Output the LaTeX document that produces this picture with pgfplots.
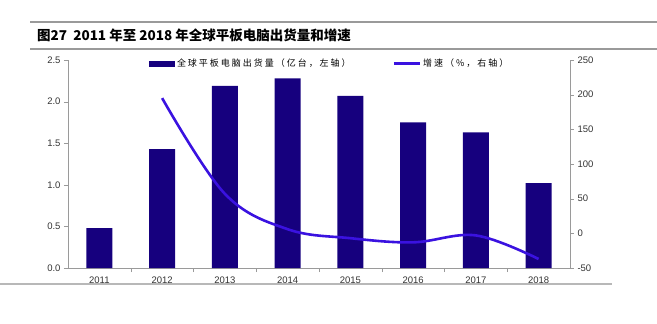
\documentclass[border=0pt]{standalone}
\usepackage{pgfplots}
\pgfplotsset{compat=1.18}
\usepackage{fontspec}
\setmainfont{Liberation Sans}
\newfontfamily\cjk{Noto Sans CJK SC}
\newfontfamily\cjkleg{Noto Sans CJK SC}[LetterSpace=22]
\definecolor{barc}{HTML}{16007E}
\definecolor{linec}{HTML}{3A12E0}
\definecolor{axc}{HTML}{9A9A9A}
\begin{document}
\begin{tikzpicture}[x=1pt,y=-1pt]
\path[use as bounding box] (0,0) rectangle (657,324);
\draw[axc,line width=1.2pt] (30,22) -- (657,22);
\draw[axc,line width=1.2pt] (30,49) -- (657,49);
\draw[axc!70,line width=1.5pt] (0,284) -- (612,284);
\node[anchor=west,inner sep=0pt,font=\cjk\bfseries\fontsize{13.5}{14}\selectfont] at (37,35.5) {图27\ \ 2011 年至 2018 年全球平板电脑出货量和增速};
\begin{axis}[
  at={(68pt,-268pt)}, anchor=south west,
  width=502pt, height=208pt, scale only axis,
  ybar, bar width=26pt,
  xmin=-0.5, xmax=7.5, ymin=0, ymax=2.5,
  axis y line*=left, axis x line*=bottom,
  axis line style={axc, line width=0.8pt},
  xtick={0,...,7},
  xticklabels={2011,2012,2013,2014,2015,2016,2017,2018},
  minor xtick={0.5,1.5,...,6.5},
  major x tick style={draw=none},
  minor x tick style={axc},
  minor tick length=4pt,
  ytick={0,0.5,...,2.5},
  yticklabel style={/pgf/number format/.cd, fixed, fixed zerofill, precision=1},
  y tick style={axc},
  tick align=outside,
  major tick length=4pt,
  tick label style={font=\fontsize{9.5}{10}\selectfont, text=black!80},
  /pgf/number format/assume math mode=true,
  x tick label style={yshift=-1pt},
  legend style={draw=none, fill=none, at={(0.155,1.025)}, anchor=north west,
    font=\cjkleg\fontsize{9}{10}\selectfont, legend columns=2,
    /tikz/every even column/.append style={column sep=40pt}},
  legend image code/.code={\fill[barc] (0pt,-3pt) rectangle (26pt,3pt);},
]
\addplot[fill=barc, draw=none] coordinates {(0,0.48) (1,1.43) (2,2.19) (3,2.28) (4,2.07) (5,1.75) (6,1.63) (7,1.02)};
\addlegendentry{全球平板电脑出货量（亿台，左轴）}
\addlegendimage{legend image code/.code={\draw[linec, line width=2.5pt] (0pt,0pt) -- (26pt,0pt);}}
\addlegendentry{增速（\%，右轴）}
\end{axis}
\begin{axis}[
  at={(68pt,-268pt)}, anchor=south west,
  width=502pt, height=208pt, scale only axis,
  xmin=-0.5, xmax=7.5, ymin=-50, ymax=250,
  axis y line*=right, axis x line=none,
  axis line style={axc, line width=0.8pt},
  ytick={-50,0,...,250},
  y tick style={axc},
  tick align=outside,
  major tick length=4pt,
  tick label style={font=\fontsize{9.5}{10}\selectfont, text=black!80},
  /pgf/number format/assume math mode=true,
]
\addplot[linec, line width=2.6pt, smooth, tension=0.6] coordinates {(1,195) (2,57) (3,6) (4,-7) (5,-13) (6,-3) (7,-37)};
\end{axis}
\end{tikzpicture}
\end{document}
